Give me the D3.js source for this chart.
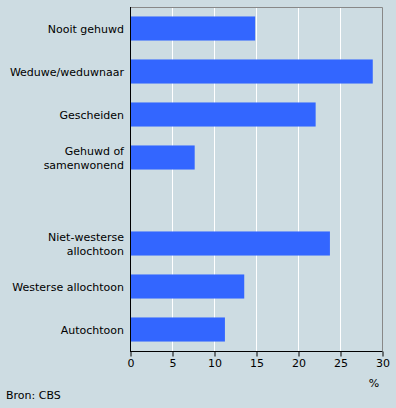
<!DOCTYPE html>
<html><head><meta charset="utf-8">
<script src="https://cdn.jsdelivr.net/npm/d3@7"></script>
<style>
html,body{margin:0;padding:0;background:#cddce2;}
svg{display:block;}
text{font-family:"DejaVu Sans",Verdana,sans-serif;font-size:11px;fill:#000;}
</style></head>
<body>
<svg id="chart" width="396" height="408"></svg>
<script>
const categories = [
  ["Nooit gehuwd"],
  ["Weduwe/weduwnaar"],
  ["Gescheiden"],
  ["Gehuwd of", "samenwonend"],
  [""],
  ["Niet-westerse", "allochtoon"],
  ["Westerse allochtoon"],
  ["Autochtoon"]
];
const values = [14.9, 28.9, 22.1, 7.7, null, 23.8, 13.6, 11.3];
const xTicks = [0, 5, 10, 15, 20, 25, 30];
const unitLabel = "%";
const source = "Bron: CBS";

(function () {
const svg = d3.select("#chart");
const mL = 130, mR = 382, mT = 7, mB = 351;
const x = d3.scaleLinear().domain([0, 30]).range([mL, mR]);
const y = d3.scaleBand().domain(d3.range(categories.length)).range([mT, mB]).paddingInner(0.44).paddingOuter(0.22);

svg.append("rect").attr("width", 396).attr("height", 408).attr("fill", "#cddce2");

// gridlines
svg.append("g").selectAll("line").data(xTicks.filter(t => t > 0 && t < 30)).join("line")
  .attr("x1", d => x(d) + 0.5).attr("x2", d => x(d) + 0.5)
  .attr("y1", mT).attr("y2", mB)
  .attr("stroke", "#fff").attr("stroke-width", 1);

// frame top/right
svg.append("path").attr("d", `M${mL},${mT + 0.5}H${mR + 0.5}V${mB}`)
  .attr("fill", "none").attr("stroke", "#888").attr("stroke-width", 1);

// bars
const data = values.map((v, i) => ({v, i})).filter(d => d.v !== null);
svg.append("g").selectAll("rect").data(data).join("rect")
  .attr("x", x(0)).attr("y", d => y(d.i))
  .attr("width", d => x(d.v) - x(0)).attr("height", y.bandwidth())
  .attr("fill", "#3366ff");

// y axis line
svg.append("line").attr("x1", mL + 0.5).attr("x2", mL + 0.5).attr("y1", mT).attr("y2", mB + 1)
  .attr("stroke", "#000");

// category labels
const lab = svg.append("g");
categories.forEach((lines, i) => {
  const cy = y(i) + y.bandwidth() / 2;
  const lh = 14;
  const t = lab.append("text").attr("text-anchor", "end");
  lines.forEach((l, k) => {
    t.append("tspan").attr("x", 124).attr("y", cy + 4 + (k - (lines.length - 1) / 2) * lh).text(l);
  });
});

// x axis
const xAxis = d3.axisBottom(x).tickValues(xTicks).tickSize(5).tickPadding(3).tickFormat(d3.format("d"));
const gx = svg.append("g").attr("transform", `translate(0.5,${mB + 0.5})`).call(xAxis);
gx.select(".domain").attr("d", `M${mL - 0.5},0H${mR}`).attr("stroke", "#000");
gx.selectAll(".tick line").attr("stroke", "#000");
gx.selectAll(".tick text").attr("fill", "#000");
gx.attr("font-family", null).attr("font-size", null);

svg.append("text").attr("x", 374).attr("y", 387).attr("text-anchor", "middle").text(unitLabel);
svg.append("text").attr("x", 6).attr("y", 399).text(source);
})();
</script>
</body></html>
